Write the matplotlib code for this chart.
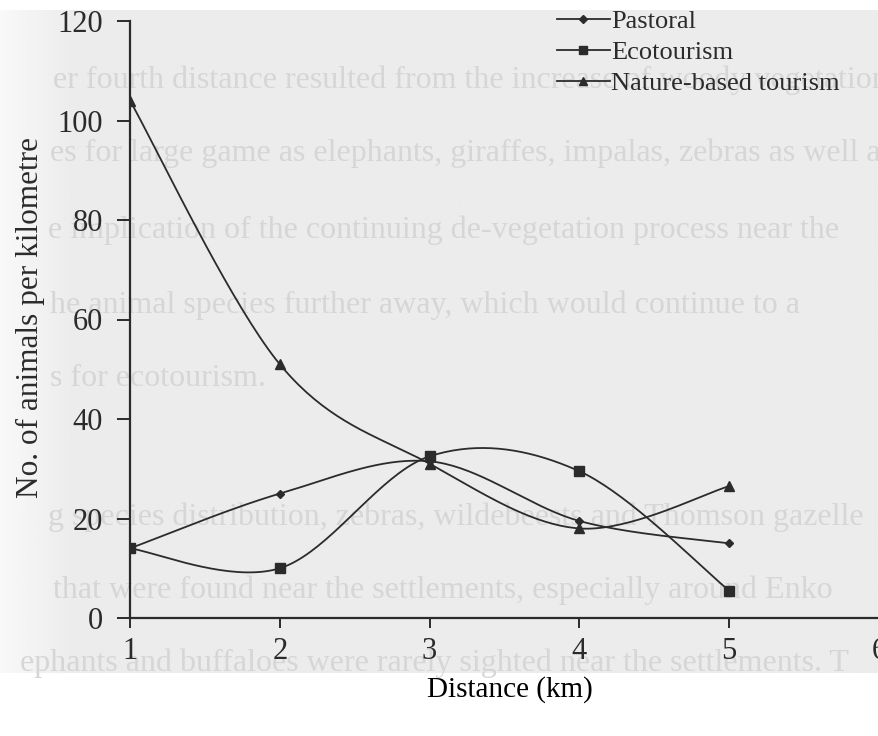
import numpy as np
import matplotlib.pyplot as plt
from matplotlib.lines import Line2D

# survey results: animals counted per kilometre at each distance band
distance = [1, 2, 3, 4, 5]
pastoral = [14, 25, 31.5, 19.5, 15]
ecotourism = [14, 10, 32.5, 29.5, 5.5]
nature_based = [104, 51, 31, 18, 26.5]

series_names = ['Pastoral', 'Ecotourism', 'Nature-based tourism']
x_ticks = [1, 2, 3, 4, 5, 6]
y_ticks = [0, 20, 40, 60, 80, 100, 120]

# text of the facing page showing through the scan
page_lines = [
    (53, 80, 'er fourth distance resulted from the increase of woody vegetation'),
    (50, 153, 'es for large game as elephants, giraffes, impalas, zebras as well as'),
    (48, 230, 'e implication of the continuing de-vegetation process near the'),
    (50, 305, 'he animal species further away, which would continue to a'),
    (50, 378, 's for ecotourism.'),
    (48, 517, 'g species distribution, zebras, wildebeests and Thomson gazelle'),
    (53, 590, 'that were found near the settlements, especially around Enko'),
    (20, 663, 'ephants and buffaloes were rarely sighted near the settlements. T'),
]

INK = '#2b2b2b'
SERIF = 'Liberation Serif'
plt.rcParams['font.family'] = SERIF


def smooth(xs, ys, n=40):
    """Catmull-Rom curve through the points, like a spreadsheet's smoothed line."""
    p = np.column_stack([xs, ys]).astype(float)
    ext = np.vstack([p[0], p, p[-1]])
    t = np.linspace(0, 1, n)[:, None]
    h00 = 2 * t**3 - 3 * t**2 + 1
    h10 = t**3 - 2 * t**2 + t
    h01 = -2 * t**3 + 3 * t**2
    h11 = t**3 - t**2
    parts = []
    for i in range(len(p) - 1):
        p0, p1, p2, p3 = ext[i], ext[i + 1], ext[i + 2], ext[i + 3]
        m1 = (p2 - p0) / 2
        m2 = (p3 - p1) / 2
        seg = h00 * p1 + h10 * m1 + h01 * p2 + h11 * m2
        parts.append(seg if i == 0 else seg[1:])
    return np.vstack(parts)


W, H = 879, 736
fig = plt.figure(figsize=(W / 100, H / 100), dpi=100)
fig.patch.set_facecolor('white')

# grey scanned page with a lighter left margin
bg = fig.add_axes([0, (H - 673) / H, 1, (673 - 10) / H], zorder=0)
grad = np.clip(np.linspace(0, 1, 400) / 0.08, 0, 1)
shade = 0.975 - 0.05 * grad
bg.imshow(np.tile(shade, (2, 1)), cmap='gray', vmin=0, vmax=1,
          aspect='auto', extent=[0, 1, 0, 1])
bg.axis('off')

for px, py, s in page_lines:
    fig.text(px / W, 1 - py / H, s, fontsize=23, color='#d6d6d6',
             va='center', ha='left', zorder=0.5)

ax = fig.add_axes([130 / W, (H - 618) / H, (W - 130) / W, (618 - 21) / H], zorder=1)
ax.patch.set_alpha(0)

styles = [(pastoral, 'D', 4.5), (ecotourism, 's', 6.5), (nature_based, '^', 7)]
handles = []
for (vals, mk, ms), name in zip(styles, series_names):
    curve = smooth(distance, vals)
    ax.plot(curve[:, 0], curve[:, 1], color=INK, lw=1.3)
    ax.plot(distance, vals, ls='none', marker=mk, ms=ms, color=INK)
    handles.append(Line2D([], [], color=INK, lw=1.3, marker=mk, ms=ms * 0.8, label=name))

ax.set_xlim(1, 1 + (W - 130) / 150.5)
ax.set_ylim(0, 120)
ax.set_xticks(x_ticks)
ax.set_yticks(y_ticks)
for side in ['top', 'right']:
    ax.spines[side].set_visible(False)
for side in ['left', 'bottom']:
    ax.spines[side].set_linewidth(1.6)
    ax.spines[side].set_color(INK)
    ax.spines[side].set_clip_on(False)
ax.tick_params(axis='x', direction='out', length=7, width=1.4, colors=INK,
               labelsize=22, pad=7)
ax.tick_params(axis='y', direction='out', length=9.5, width=1.4, colors=INK,
               labelsize=22, pad=10)

fig.text(30 / W, 1 - 318 / H, 'No. of animals per kilometre', rotation=90,
         ha='center', va='center', fontsize=22.5, color=INK)
fig.text(510 / W, 1 - 690 / H, 'Distance (km)', ha='center', va='center',
         fontsize=21, color='black')

ax.legend(handles=handles, loc='upper left', bbox_to_anchor=(557 / W, 1 - 10 / H),
          bbox_transform=fig.transFigure, frameon=False, fontsize=19,
          handlelength=2.0, handletextpad=0.05, labelspacing=0.28,
          borderpad=0, borderaxespad=0, labelcolor=INK)

fig.savefig('out.png', dpi=100)
